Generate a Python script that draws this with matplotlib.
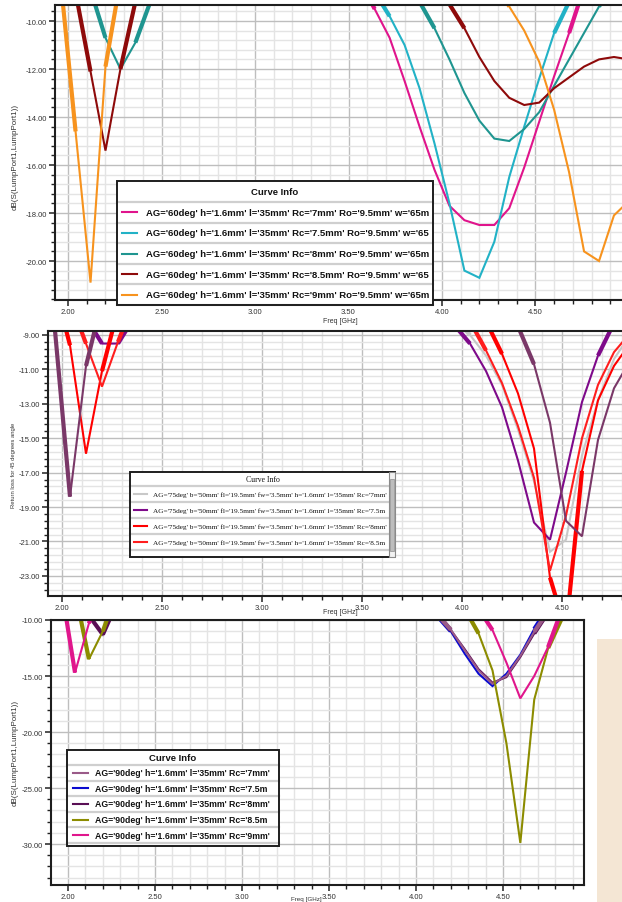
import numpy as np
import matplotlib
matplotlib.use('Agg')
import matplotlib.pyplot as plt
from matplotlib.ticker import MultipleLocator, FixedLocator, FormatStrFormatter
from matplotlib.patches import Rectangle
from matplotlib.lines import Line2D

nan = np.nan
W, H = 622, 903

# ---------------- panel 1 : AG = 60deg ----------------
P1_LABELS = ["AG='60deg' h='1.6mm' l='35mm' Rc='7mm' Ro='9.5mm' w='65m",
             "AG='60deg' h='1.6mm' l='35mm' Rc='7.5mm' Ro='9.5mm' w='65",
             "AG='60deg' h='1.6mm' l='35mm' Rc='8mm' Ro='9.5mm' w='65m",
             "AG='60deg' h='1.6mm' l='35mm' Rc='8.5mm' Ro='9.5mm' w='65",
             "AG='60deg' h='1.6mm' l='35mm' Rc='9mm' Ro='9.5mm' w='65m"]
P1_COLORS = ['#E0148C', '#22B2C6', '#1F9590', '#8E0A0A', '#F7931E']
P1_F_LOW = [1.96, 2.04, 2.12, 2.20, 2.28, 2.36, 2.44]
P1_DB_LOW = [[nan, nan, nan, nan, nan, nan, nan],
             [nan, nan, nan, nan, nan, nan, nan],
             [nan, nan, -8.7, -10.7, -12.0, -10.9, -9.2],
             [nan, -8.8, -12.1, -15.4, -12.0, -9.2, nan],
             [-8.3, -14.6, -20.9, -11.9, -8.3, nan, nan]]
P1_F_HIGH = [3.56, 3.64, 3.72, 3.80, 3.88, 3.96, 4.04, 4.12, 4.20, 4.28,
             4.36, 4.44, 4.52, 4.60, 4.68, 4.76, 4.84, 4.92, 5.00]
P1_DB_HIGH = [[-8.3, -9.5, -10.7, -12.5, -14.4, -16.2, -17.7, -18.3, -18.5, -18.5,
               -17.8, -16.1, -14.2, -12.3, -10.5, -8.6, nan, nan, nan],
              [nan, -8.8, -9.8, -11.0, -12.8, -15.1, -17.6, -20.4, -20.7, -19.2,
               -16.5, -14.4, -12.4, -10.5, -9.2, -8.0, nan, nan, nan],
              [nan, nan, nan, -8.2, -9.2, -10.3, -11.6, -13.0, -14.15, -14.9,
               -15.0, -14.5, -13.8, -12.7, -11.6, -10.5, -9.4, -8.3, nan],
              [nan, nan, nan, nan, nan, -8.2, -9.3, -10.3, -11.5, -12.5,
               -13.2, -13.5, -13.4, -12.8, -12.35, -11.9, -11.6, -11.5, -11.6],
              [nan, nan, nan, nan, nan, nan, nan, nan, nan, -8.2,
               -9.4, -10.4, -11.7, -13.7, -16.3, -19.6, -20.0, -18.1, -17.5]]

# ---------------- panel 2 : AG = 75deg ----------------
P2_LABELS = ["AG='75deg' b='50mm' fl='19.5mm' fw='3.5mm' h='1.6mm' l='35mm' Rc='7mm'",
             "AG='75deg' b='50mm' fl='19.5mm' fw='3.5mm' h='1.6mm' l='35mm' Rc='7.5m",
             "AG='75deg' b='50mm' fl='19.5mm' fw='3.5mm' h='1.6mm' l='35mm' Rc='8mm'",
             "AG='75deg' b='50mm' fl='19.5mm' fw='3.5mm' h='1.6mm' l='35mm' Rc='8.5m"]
# last colour: trace hidden below the scrolled legend
P2_COLORS = ['#C8C8C8', '#7E0A8A', '#FF0000', '#FF1E1E', '#7A3868']
P2_F_LOW = [1.96, 2.04, 2.12, 2.20, 2.28, 2.36]
P2_DB_LOW = [[nan, nan, nan, nan, nan, nan],
             [nan, nan, -8.0, -9.5, -9.5, -8.0],
             [-6.0, -9.6, -15.9, -11.1, -7.5, nan],
             [nan, -7.0, -9.5, -12.0, -9.4, -7.0],
             [-8.1, -18.4, -10.8, -7.0, nan, nan]]
P2_F_HIGH = [3.96, 4.04, 4.12, 4.20, 4.28, 4.36, 4.44, 4.52, 4.60, 4.68, 4.76, 4.84]
P2_DB_HIGH = [[-8.0, -9.0, -10.2, -11.9, -14.5, -17.5, -21.6, -20.9, -16.0, -12.8, -10.4, -9.0],
              [-8.4, -9.5, -11.1, -13.2, -16.3, -19.9, -20.9, -17.0, -12.9, -10.2, -8.3, nan],
              [nan, nan, -8.2, -10.1, -12.4, -15.6, -23.1, -26.2, -16.9, -12.8, -10.8, -9.5],
              [nan, -8.2, -9.9, -11.8, -14.3, -17.3, -22.7, -19.5, -15.0, -11.9, -10.0, -8.9],
              [nan, nan, nan, nan, -8.5, -10.7, -14.1, -19.8, -20.7, -15.1, -12.1, -10.5]]

# ---------------- panel 3 : AG = 90deg ----------------
P3_LABELS = ["AG='90deg' h='1.6mm' l='35mm' Rc='7mm'",
             "AG='90deg' h='1.6mm' l='35mm' Rc='7.5m",
             "AG='90deg' h='1.6mm' l='35mm' Rc='8mm'",
             "AG='90deg' h='1.6mm' l='35mm' Rc='8.5m",
             "AG='90deg' h='1.6mm' l='35mm' Rc='9mm'"]
P3_COLORS = ['#9A5A88', '#0A0ACF', '#5A0F55', '#8C8C00', '#E0168C']
P3_F_LOW = [1.96, 2.04, 2.12, 2.20, 2.28]
P3_DB_LOW = [[nan, nan, nan, nan, nan],
             [nan, nan, nan, nan, nan],
             [nan, nan, -9.6, -11.3, -8.5],
             [nan, -7.4, -13.5, -11.0, -7.5],
             [-7.0, -14.7, -10.3, -6.0, nan]]
P3_F_HIGH = [4.04, 4.12, 4.20, 4.28, 4.36, 4.44, 4.52, 4.60, 4.68, 4.76, 4.84, 4.92]
P3_DB_HIGH = [[-8.0, -9.5, -10.85, -12.7, -14.5, -15.7, -15.0, -13.2, -11.05, -9.2, nan, nan],
              [-8.0, -9.6, -11.0, -13.0, -14.8, -15.9, -14.8, -13.1, -10.8, -8.9, nan, nan],
              [-8.0, -9.4, -10.9, -12.6, -14.4, -15.6, -15.1, -13.3, -11.2, -9.3, nan, nan],
              [nan, nan, nan, -9.0, -11.2, -14.5, -21.0, -29.9, -17.1, -12.5, -9.8, nan],
              [nan, nan, nan, nan, -9.0, -10.9, -13.8, -17.0, -15.0, -12.4, -9.0, nan]]


def fx(x):
    return x / W


def fy(y):
    return 1 - y / H


def make_axes(fig, left, top, right, bottom):
    return fig.add_axes([fx(left), fy(bottom), (right - left) / W, (bottom - top) / H])


def style_axes(ax, xlim, ylim, yticks, yminor, right_spine):
    ax.set_xlim(*xlim)
    ax.set_ylim(*ylim)
    ax.xaxis.set_major_locator(MultipleLocator(0.5))
    ax.xaxis.set_minor_locator(MultipleLocator(0.1))
    ax.yaxis.set_major_locator(FixedLocator(yticks))
    ax.yaxis.set_minor_locator(yminor)
    ax.xaxis.set_major_formatter(FormatStrFormatter('%.2f'))
    ax.yaxis.set_major_formatter(FormatStrFormatter('%.2f'))
    ax.set_axisbelow(True)
    ax.grid(which='minor', color='#E4E4E4', lw=1.0)
    ax.grid(which='major', color='#BEBEBE', lw=1.0)
    ax.tick_params(which='major', direction='out', length=4, width=1.1, labelsize=5.5,
                   labelcolor='#333333', pad=2, colors='#222222')
    ax.tick_params(which='minor', direction='out', length=3, width=1.0, colors='#222222')
    for s in ax.spines.values():
        s.set_linewidth(1.5)
        s.set_color('#1E1E1E')
    ax.spines['right'].set_visible(right_spine)
    for lab in ax.get_xticklabels() + ax.get_yticklabels():
        lab.set_fontfamily('Liberation Sans')


def draw_curve(ax, f, db, color, lw=1.5, lw_edge=3.0):
    f = np.asarray(f)
    db = np.asarray(db, dtype=float)
    ax.plot(f, db, color=color, lw=lw, solid_joinstyle='miter')
    lo, hi = ax.get_ylim()
    out = (db > hi) | (db < lo)
    # segments leaving the plot area are drawn heavier, as in the original export
    for i in range(len(db) - 1):
        if np.isnan(db[i]) or np.isnan(db[i + 1]):
            continue
        if out[i] != out[i + 1]:
            ax.plot(f[i:i + 2], db[i:i + 2], color=color, lw=lw_edge,
                    solid_capstyle='butt')


def draw_legend(fig, box, title, labels, colors, title_h, row_h, sample_x, text_x,
                font, tsize, title_size, title_weight, bold):
    x0, y0, x1, y1 = box
    bg = Rectangle((fx(x0), fy(y1)), (x1 - x0) / W, (y1 - y0) / H,
                   transform=fig.transFigure, fc='white', ec='none', zorder=5)
    fig.add_artist(bg)
    fig.text(fx((x0 + x1) / 2), fy(y0 + title_h / 2), title, ha='center', va='center',
             fontsize=title_size, fontweight=title_weight, family=font, color='#111111',
             zorder=7)
    for k in range(len(labels) + 1):
        ys = y0 + title_h + k * row_h
        fig.add_artist(Line2D([fx(x0), fx(x1)], [fy(ys), fy(ys)], transform=fig.transFigure,
                              color='#CFCFCF', lw=1.6, zorder=6))
    for k, (lab, col) in enumerate(zip(labels, colors)):
        yc = y0 + title_h + (k + 0.5) * row_h
        fig.add_artist(Line2D([fx(sample_x[0]), fx(sample_x[1])], [fy(yc), fy(yc)],
                              transform=fig.transFigure, color=col, lw=1.5, zorder=7))
        t = fig.text(fx(text_x), fy(yc), lab, ha='left', va='center', fontsize=tsize,
                     fontweight='bold' if bold else 'normal', family=font,
                     color='#111111', zorder=7)
        t.set_clip_path(bg)
    fig.add_artist(Rectangle((fx(x0), fy(y1)), (x1 - x0) / W, (y1 - y0) / H,
                             transform=fig.transFigure, fc='none', ec='#1E1E1E',
                             lw=1.4, zorder=8))


fig = plt.figure(figsize=(W / 100, H / 100), dpi=100)
fig.patch.set_facecolor('white')

# panel 1
ax1 = make_axes(fig, 55, 6, 622, 301)
style_axes(ax1, (1.930, 4.963), (-21.625, -9.333), [-20, -18, -16, -14, -12, -10],
           FixedLocator(np.arange(-22.0, -9.0, 0.4)), False)
for k in range(len(P1_LABELS)):
    draw_curve(ax1, P1_F_LOW, P1_DB_LOW[k], P1_COLORS[k])
    draw_curve(ax1, P1_F_HIGH, P1_DB_HIGH[k], P1_COLORS[k])

# panel 2
ax2 = make_axes(fig, 48, 332, 622, 597)
style_axes(ax2, (1.93, 4.80), (-24.17, -8.77), [-23, -21, -19, -17, -15, -13, -11, -9],
           FixedLocator(np.arange(-25.0, -8.5, 0.4)), False)
for k in range(len(P2_COLORS)):
    draw_curve(ax2, P2_F_LOW, P2_DB_LOW[k], P2_COLORS[k])
    draw_curve(ax2, P2_F_HIGH, P2_DB_HIGH[k], P2_COLORS[k])

# panel 3
ax3 = make_axes(fig, 51, 621, 584, 886)
style_axes(ax3, (1.902, 4.966), (-33.66, -10.0), [-30, -25, -20, -15, -10],
           MultipleLocator(1), True)
for k in [1, 2, 0, 3, 4]:
    draw_curve(ax3, P3_F_LOW, P3_DB_LOW[k], P3_COLORS[k])
    draw_curve(ax3, P3_F_HIGH, P3_DB_HIGH[k], P3_COLORS[k])

# axis titles
fig.text(fx(15), fy(157), 'dB(S(LumpPort1,LumpPort1))', rotation=90, ha='center',
         va='center', fontsize=5.8, family='Liberation Sans', color='#333333')
fig.text(fx(14), fy(465), 'Return loss for 45 degrees angle', rotation=90, ha='center',
         va='center', fontsize=4.2, family='Liberation Sans', color='#333333')
fig.text(fx(15), fy(753), 'dB(S(LumpPort1,LumpPort1))', rotation=90, ha='center',
         va='center', fontsize=5.8, family='Liberation Sans', color='#333333')
for xx, yy, fs in [(340, 322, 5), (340, 612, 5), (306, 899.5, 4.5)]:
    fig.text(fx(xx), fy(yy), 'Freq [GHz]', ha='center', va='center', fontsize=fs,
             family='Liberation Sans', color='#333333')

# legends
draw_legend(fig, (117, 182, 433, 306), 'Curve Info', P1_LABELS, P1_COLORS,
            title_h=21, row_h=20.6, sample_x=(122, 137), text_x=146,
            font='Liberation Sans', tsize=6.8, title_size=6.8, title_weight='bold', bold=True)
draw_legend(fig, (130, 473, 395, 558), 'Curve Info', P2_LABELS, P2_COLORS[:4],
            title_h=14, row_h=16, sample_x=(134, 147), text_x=153,
            font='Liberation Serif', tsize=5.2, title_size=5.6, title_weight='normal', bold=False)
# scroll bar of the second legend
fig.add_artist(Rectangle((fx(388.5), fy(558)), 6.5 / W, 85 / H, transform=fig.transFigure,
                         fc='#F2F2F2', ec='#8A8A8A', lw=0.8, zorder=9))
fig.add_artist(Rectangle((fx(389.5), fy(552)), 4.5 / W, 72 / H, transform=fig.transFigure,
                         fc='#BDBDBD', ec='#9A9A9A', lw=0.6, zorder=9))
draw_legend(fig, (67, 751, 279, 847), 'Curve Info', P3_LABELS, P3_COLORS,
            title_h=15, row_h=15.6, sample_x=(73, 88), text_x=95,
            font='Liberation Sans', tsize=6.3, title_size=6.8, title_weight='bold', bold=True)

# blurred photo edge at the lower right of the screenshot
fig.add_artist(Rectangle((fx(597), 0), 25 / W, (903 - 640) / H, transform=fig.transFigure,
                         fc='#F4E6D4', ec='none', zorder=0.5))

fig.savefig('out.png', dpi=100)
